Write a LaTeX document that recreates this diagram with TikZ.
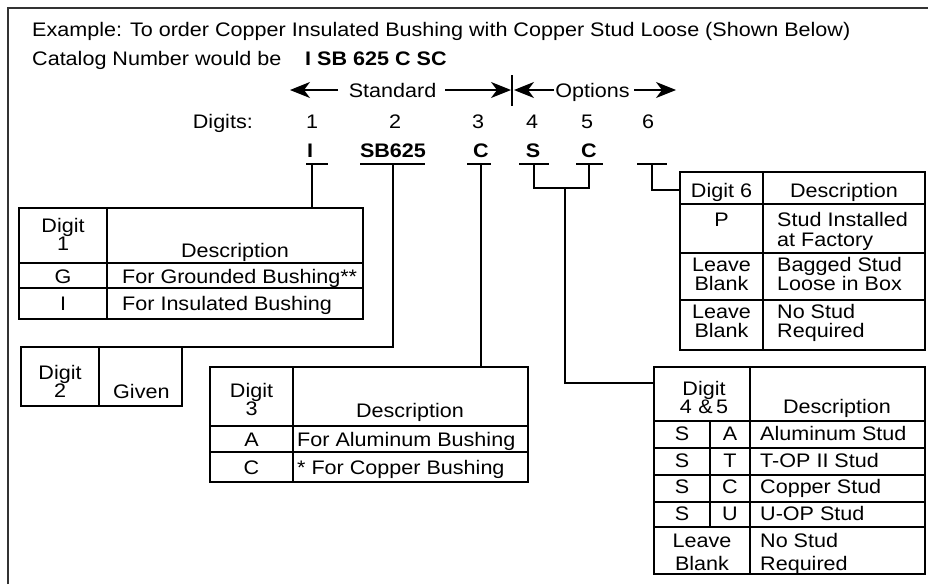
\documentclass[tikz,border=0pt]{standalone}
\usepackage{fontspec}
\setmainfont{Liberation Sans}[FakeStretch=1.1]
\usetikzlibrary{arrows.meta}

\tikzset{
  txt/.style={anchor=base, inner sep=0pt, font=\fontsize{19.6}{20}\selectfont},
  ltxt/.style={txt, anchor=base west},
  btxt/.style={txt, font=\fontsize{19.6}{20}\selectfont\bfseries},
  tab/.style={draw, line width=1.2pt, inner sep=0pt, outer sep=0pt, anchor=north west},
  wire/.style={line width=1.2pt},
  bigarrow/.style={line width=1.2pt, -{Stealth[length=20pt, width=16pt, inset=6pt]}}
}

\begin{document}
\begin{tikzpicture}[x=1pt, y=-1pt]
  \useasboundingbox (0,0) rectangle (928,584);
  % frame
  \draw[line width=2pt, black!80] (8,584) -- (8,7.5) -- (928,7.5);

  % heading
  \node[ltxt] (ex) at (32,36.5) {Example: To order Copper Insulated Bushing with Copper Stud Loose (Shown Below)};
  \node[ltxt] (cat) at (32,65) {Catalog Number would be};
  \node[btxt, anchor=base west] (catno) at (305,65) {I SB 625 C SC};

  % standard / options
  \coordinate (stdL) at (290,90);
  \coordinate (stdR) at (511,90);
  \coordinate (optL) at (514,90);
  \coordinate (optR) at (676,90);
  \node[txt] (std) at (392.5,97) {Standard};
  \node[txt] (opt) at (592.5,97) {Options};
  \draw[bigarrow] (338,90) -- (stdL);
  \draw[bigarrow] (445,90) -- (stdR);
  \draw[wire] (512,75) -- (512,106);
  \draw[bigarrow] (554,90) -- (optL);
  \draw[bigarrow] (634,90) -- (optR);

  % digits
  \node[txt, anchor=base east] (dig) at (253,128) {Digits:};
  \foreach \d/\x in {1/312, 2/395, 3/478, 4/532, 5/587, 6/648}
    \node[txt] (d\d) at (\x,128) {\d};

  % code letters
  \node[btxt] (cI) at (310,157) {I};
  \node[btxt] (cSB) at (393,157) {SB625};
  \node[btxt] (cC) at (481,157) {C};
  \node[btxt] (cS) at (533,157) {S};
  \node[btxt] (cC2) at (589,157) {C};
  \foreach \a/\b in {306/328, 360/425, 467/491, 519/549, 576/603, 637/667}
    \draw[wire] (\a,164) -- (\b,164);
  \coordinate (uI) at (312,164);
  \coordinate (uSB) at (393,164);
  \coordinate (uC) at (481,164);
  \coordinate (uS) at (534,164);
  \coordinate (uC2) at (589,164);
  \coordinate (u6) at (652,164);

  % table digit 1
  \node[tab, minimum width=344pt, minimum height=111pt] (tabA) at (19,208) {};
  \draw[wire] (107,208) -- (107,319);
  \draw[wire] (19,263) -- (363,263);
  \draw[wire] (19,288) -- (363,288);
  \node[txt] at (63,232) {Digit};
  \node[txt] at (63,250) {1};
  \node[txt] at (235,257) {Description};
  \node[txt] at (63,283) {G};
  \node[ltxt] at (122,283) {For Grounded Bushing**};
  \node[txt] at (63,310) {I};
  \node[ltxt] at (122,310) {For Insulated Bushing};

  % table digit 2
  \node[tab, minimum width=161pt, minimum height=59pt] (tabB) at (21,347) {};
  \draw[wire] (99,347) -- (99,406);
  \node[txt] at (60,379) {Digit};
  \node[txt] at (60,397) {2};
  \node[ltxt] at (113,398) {Given};

  % table digit 3
  \node[tab, minimum width=318pt, minimum height=115pt] (tabC) at (210,367) {};
  \draw[wire] (293,367) -- (293,482);
  \draw[wire] (210,426) -- (528,426);
  \draw[wire] (210,452) -- (528,452);
  \node[txt] at (251.5,397) {Digit};
  \node[txt] at (251.5,415) {3};
  \node[txt] at (410,417) {Description};
  \node[txt] at (251.5,446) {A};
  \node[ltxt] at (297,446) {For Aluminum Bushing};
  \node[txt] at (251.5,474) {C};
  \node[ltxt] at (297,474) {* For Copper Bushing};

  % table digit 6
  \node[tab, minimum width=245pt, minimum height=178pt] (tabD) at (680,172) {};
  \draw[wire] (763,172) -- (763,350);
  \foreach \y in {204, 253, 300}
    \draw[wire] (680,\y) -- (925,\y);
  \node[txt] at (721.5,197) {Digit 6};
  \node[txt] at (844,197) {Description};
  \node[txt] at (721.5,226) {P};
  \node[ltxt] at (777,226) {Stud Installed};
  \node[ltxt] at (777,246) {at Factory};
  \node[txt] at (721.5,271) {Leave};
  \node[txt] at (721.5,290) {Blank};
  \node[ltxt] at (777,271) {Bagged Stud};
  \node[ltxt] at (777,290) {Loose in Box};
  \node[txt] at (721.5,318) {Leave};
  \node[txt] at (721.5,337) {Blank};
  \node[ltxt] at (777,318) {No Stud};
  \node[ltxt] at (777,337) {Required};

  % table digits 4 & 5
  \node[tab, minimum width=271pt, minimum height=207pt] (tabE) at (654,367) {};
  \draw[wire] (750,367) -- (750,574);
  \draw[wire] (710,421) -- (710,527);
  \foreach \y in {421, 448, 475, 502, 527}
    \draw[wire] (654,\y) -- (925,\y);
  \node[txt] at (704,395) {Digit};
  \node[txt] at (704,413) {4\,\,\&\,5};
  \node[txt] at (837,413) {Description};
  \foreach \y/\l/\t in {440/A/Aluminum Stud, 467/T/T-OP II Stud, 493/C/Copper Stud, 520/U/U-OP Stud}{
    \node[txt] at (682,\y) {S};
    \node[txt] at (730,\y) {\l};
    \node[ltxt] at (760,\y) {\t};
  }
  \node[txt] at (702,547) {Leave};
  \node[txt] at (702,570) {Blank};
  \node[ltxt] at (760,547) {No Stud};
  \node[ltxt] at (760,570) {Required};

  % connectors
  \coordinate (j45) at (565,188);
  \coordinate (e45) at (654,383);
  \coordinate (e6) at (680,190);
  \draw[wire] (uI) -- (uI |- tabA.north);
  \draw[wire] (uSB) |- (tabB.north east);
  \draw[wire] (uC) -- (uC |- tabC.north);
  \draw[wire] (uS) |- (j45) -| (uC2);
  \draw[wire] (j45) |- (e45);
  \draw[wire] (u6) |- (e6);
\end{tikzpicture}
\end{document}
